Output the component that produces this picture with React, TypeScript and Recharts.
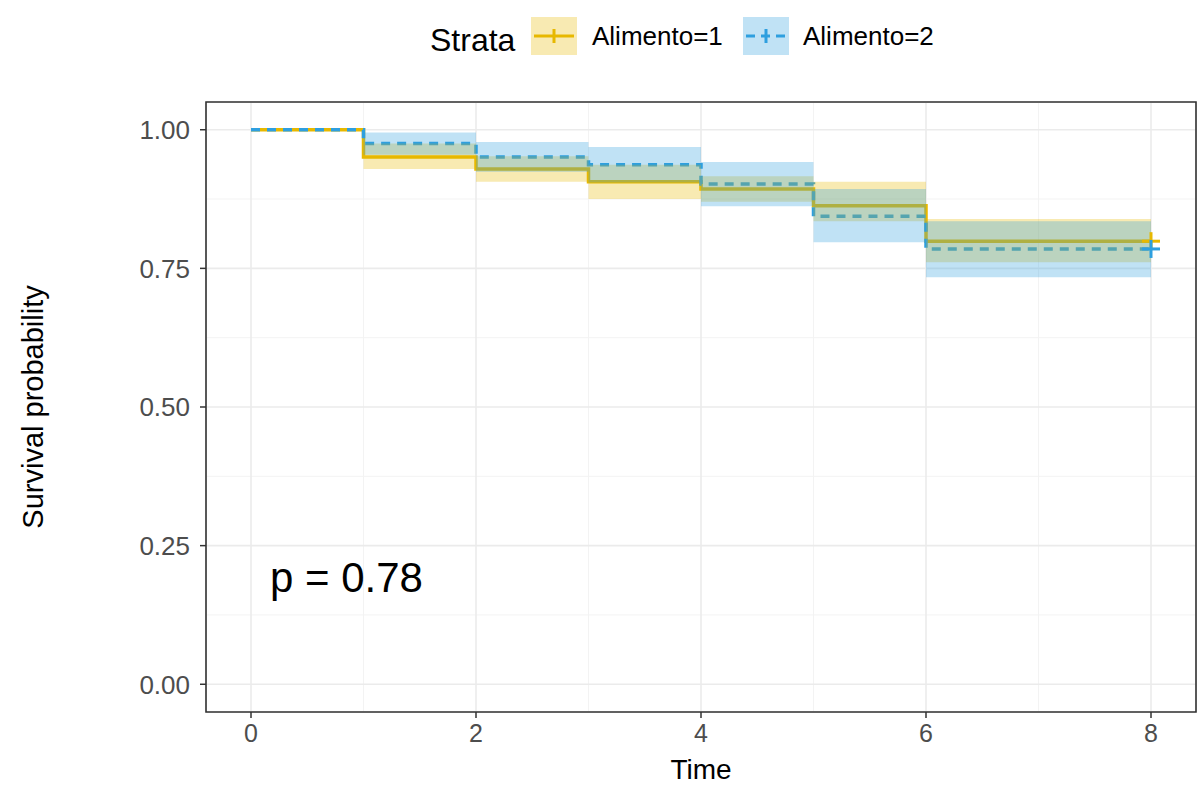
import React from 'react';
import {
  ComposedChart,
  Line,
  Area,
  Scatter,
  XAxis,
  YAxis,
  CartesianGrid,
  ReferenceArea,
} from 'recharts';

// Kaplan-Meier estimates
const times = [0, 1, 2, 3, 4, 5, 6, 8];
const surv1 = [1, 0.951, 0.929, 0.906, 0.893, 0.863, 0.799, 0.799];
const lower1 = [1, 0.929, 0.906, 0.875, 0.87, 0.835, 0.761, 0.761];
const upper1 = [1, 0.975, 0.952, 0.937, 0.916, 0.906, 0.839, 0.839];
const surv2 = [1, 0.975, 0.951, 0.937, 0.902, 0.844, 0.785, 0.785];
const lower2 = [1, 0.955, 0.924, 0.905, 0.862, 0.797, 0.734, 0.734];
const upper2 = [1, 0.995, 0.978, 0.969, 0.942, 0.893, 0.835, 0.835];

const censor1 = [{ time: 8, s1: 0.799 }];
const censor2 = [{ time: 8, s2: 0.785 }];

const xTicks = [0, 2, 4, 6, 8];
const yTicks = [0, 0.25, 0.5, 0.75, 1];
const xMinor = [1, 3, 5, 7];
const yMinor = [0.125, 0.375, 0.625, 0.875];

const strataLabels = ['Alimento=1', 'Alimento=2'];
const pValueText = 'p = 0.78';

const YELLOW = '#E7B800';
const BLUE = '#2E9FDF';
const FONT = '"Liberation Sans", Arial, sans-serif';

const X_DOMAIN: [number, number] = [-0.4, 8.4];
const Y_DOMAIN: [number, number] = [-0.05, 1.05];

const rows = times.map((t, i) => ({
  time: t,
  s1: surv1[i],
  band1: [lower1[i], upper1[i]],
  s2: surv2[i],
  band2: [lower2[i], upper2[i]],
}));

const plusShape = (color: string) => (props: any) => {
  const { cx, cy } = props;
  return (
    <g>
      <line x1={cx - 9} x2={cx + 9} y1={cy} y2={cy} stroke={color} strokeWidth={3} />
      <line x1={cx} x2={cx} y1={cy - 9} y2={cy + 9} stroke={color} strokeWidth={3} />
    </g>
  );
};

function LegendKey({ x, color, dashed }: { x: number; color: string; dashed?: boolean }) {
  return (
    <g>
      <rect x={x} y={17} width={46} height={38} fill={color} fillOpacity={0.3} />
      <line
        x1={x + 3}
        x2={x + 43}
        y1={36}
        y2={36}
        stroke={color}
        strokeWidth={3}
        strokeDasharray={dashed ? '9 6' : undefined}
      />
      <line x1={x + 23} x2={x + 23} y1={29} y2={43} stroke={color} strokeWidth={3} />
    </g>
  );
}

export default function App() {
  const tickStyle = { fontSize: 25, fill: '#4D4D4D', fontFamily: FONT };
  return (
    <div style={{ position: 'absolute', left: 0, top: 0, background: '#fff' }}>
      <ComposedChart width={1204} height={785} data={rows} margin={{ top: 102, right: 8, bottom: 0, left: 0 }}>
        {/* minor grid via hidden axes */}
        <XAxis xAxisId="minor" dataKey="time" type="number" domain={X_DOMAIN} ticks={xMinor} hide allowDataOverflow />
        <YAxis yAxisId="minor" type="number" domain={Y_DOMAIN} ticks={yMinor} hide allowDataOverflow />
        <CartesianGrid xAxisId="minor" yAxisId="minor" stroke="#F3F3F3" strokeWidth={1} />
        <CartesianGrid stroke="#EBEBEB" strokeWidth={1.6} />
        <XAxis
          dataKey="time"
          type="number"
          domain={X_DOMAIN}
          ticks={xTicks}
          height={73}
          axisLine={false}
          tickLine={{ stroke: '#333', strokeWidth: 1.5 }}
          tickSize={6}
          tickMargin={6}
          tick={tickStyle}
          allowDataOverflow
        />
        <YAxis
          type="number"
          domain={Y_DOMAIN}
          ticks={yTicks}
          width={206}
          axisLine={false}
          tickLine={{ stroke: '#333', strokeWidth: 1.5 }}
          tickSize={6}
          tickMargin={10}
          tick={{ ...tickStyle, fontSize: 26 }}
          tickFormatter={(v: number) => v.toFixed(2)}
          allowDataOverflow
        />
        <Line
          type="stepAfter"
          dataKey="s1"
          stroke={YELLOW}
          strokeWidth={3.5}
          dot={false}
          zIndex={300}
          isAnimationActive={false}
        />
        <Line
          type="stepAfter"
          dataKey="s2"
          stroke={BLUE}
          strokeWidth={3.5}
          strokeDasharray="9 7"
          dot={false}
          zIndex={310}
          isAnimationActive={false}
        />
        <Area
          type="stepAfter"
          dataKey="band1"
          fill={YELLOW}
          fillOpacity={0.3}
          stroke="none"
          zIndex={450}
          isAnimationActive={false}
        />
        <Area
          type="stepAfter"
          dataKey="band2"
          fill={BLUE}
          fillOpacity={0.3}
          stroke="none"
          zIndex={460}
          isAnimationActive={false}
        />
        <Scatter data={censor1} dataKey="s1" shape={plusShape(YELLOW)} isAnimationActive={false} />
        <Scatter data={censor2} dataKey="s2" shape={plusShape(BLUE)} isAnimationActive={false} />
        <ReferenceArea
          x1={X_DOMAIN[0]}
          x2={X_DOMAIN[1]}
          y1={Y_DOMAIN[0]}
          y2={Y_DOMAIN[1]}
          fill="none"
          stroke="#333"
          strokeWidth={1.6}
        />

        {/* titles and annotation */}
        <text x={701} y={779} textAnchor="middle" fontSize={28} fontFamily={FONT} fill="#000">
          Time
        </text>
        <text
          x={43}
          y={407}
          transform="rotate(-90 43 407)"
          textAnchor="middle"
          fontSize={29}
          fontFamily={FONT}
          fill="#000"
        >
          Survival probability
        </text>
        <text x={270} y={592} fontSize={42} fontFamily={FONT} fill="#000">
          {pValueText}
        </text>

        {/* legend */}
        <text x={430} y={51} fontSize={32} fontFamily={FONT} fill="#000">
          Strata
        </text>
        <LegendKey x={531} color={YELLOW} />
        <text x={592} y={45} fontSize={26} fontFamily={FONT} fill="#000">
          {strataLabels[0]}
        </text>
        <LegendKey x={743} color={BLUE} dashed />
        <text x={803} y={45} fontSize={26} fontFamily={FONT} fill="#000">
          {strataLabels[1]}
        </text>
      </ComposedChart>
    </div>
  );
}
